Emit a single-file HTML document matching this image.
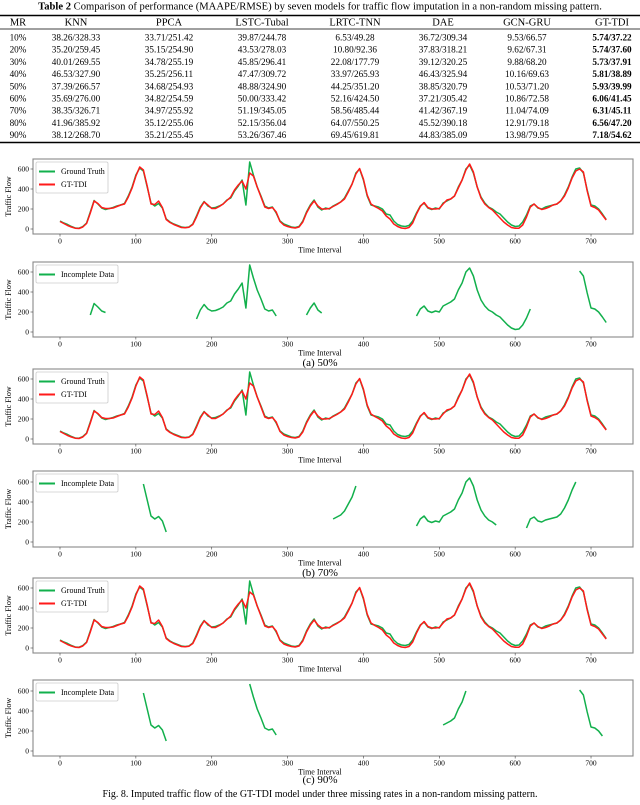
<!DOCTYPE html>
<html><head><meta charset="utf-8"><style>
html,body{margin:0;padding:0;background:#fff;}
body{width:640px;height:800px;overflow:hidden;font-family:"Liberation Serif",serif;}
svg text{font-family:"Liberation Serif",serif;}
</style></head><body>
<svg id="fig" width="640" height="800" viewBox="0 0 640 800" xmlns="http://www.w3.org/2000/svg">
<g id="table"></g>
<g id="charts"></g>
<text x="320" y="366" font-size="11" text-anchor="middle">(a) 50%</text>
<text x="320" y="576" font-size="11" text-anchor="middle">(b) 70%</text>
<text x="320" y="783" font-size="11" text-anchor="middle">(c) 90%</text>
<text x="320" y="797" font-size="10" text-anchor="middle">Fig. 8. Imputed traffic flow of the GT-TDI model under three missing rates in a non-random missing pattern.</text>
</svg>
<script>
const NS="http://www.w3.org/2000/svg";
const tableHeaders=["MR","KNN","PPCA","LSTC-Tubal","LRTC-TNN","DAE","GCN-GRU","GT-TDI"];
const tableRows=[
["10%","38.26/328.33","33.71/251.42","39.87/244.78","6.53/49.28","36.72/309.34","9.53/66.57","5.74/37.22"],
["20%","35.20/259.45","35.15/254.90","43.53/278.03","10.80/92.36","37.83/318.21","9.62/67.31","5.74/37.60"],
["30%","40.01/269.55","34.78/255.19","45.85/296.41","22.08/177.79","39.12/320.25","9.88/68.20","5.73/37.91"],
["40%","46.53/327.90","35.25/256.11","47.47/309.72","33.97/265.93","46.43/325.94","10.16/69.63","5.81/38.89"],
["50%","37.39/266.57","34.68/254.93","48.88/324.90","44.25/351.20","38.85/320.79","10.53/71.20","5.93/39.99"],
["60%","35.69/276.00","34.82/254.59","50.00/333.42","52.16/424.50","37.21/305.42","10.86/72.58","6.06/41.45"],
["70%","38.35/326.71","34.97/255.92","51.19/345.05","58.56/485.44","41.42/367.19","11.04/74.09","6.31/45.11"],
["80%","41.96/385.92","35.12/255.06","52.15/356.04","64.07/550.25","45.52/390.18","12.91/79.18","6.56/47.20"],
["90%","38.12/268.70","35.21/255.45","53.26/367.46","69.45/619.81","44.83/385.09","13.98/79.95","7.18/54.62"]];
const colX=[18,76,169,262,355,443,527,612];

const timeStep=5;
const truthFlow=[80,60,45,25,10,8,25,60,170,285,250,210,195,205,215,230,240,255,330,420,540,610,580,420,260,230,255,210,100,70,50,35,20,15,20,50,130,220,275,230,210,215,230,250,290,310,380,430,490,240,670,540,420,330,230,210,220,160,80,50,35,20,15,25,80,170,240,290,220,190,210,200,230,250,270,310,380,450,560,600,490,330,240,230,220,200,150,140,80,45,30,25,35,80,160,230,260,210,195,210,200,260,280,300,330,420,490,600,640,560,420,320,260,220,200,170,150,110,70,40,25,30,70,140,230,250,210,200,220,230,240,250,280,340,420,520,600,610,560,390,240,230,200,150,95];
const predFlow=[75,55,35,20,8,5,20,55,160,280,255,215,205,205,210,225,240,250,320,410,530,620,590,430,250,245,280,215,95,65,45,30,15,12,18,45,120,210,270,240,205,205,225,250,285,320,390,440,480,400,560,530,420,320,220,205,215,170,75,40,25,15,10,20,70,160,230,280,230,200,200,205,225,245,270,300,370,450,550,605,500,340,250,225,205,180,130,100,50,25,10,5,15,60,150,225,265,215,200,200,205,250,290,300,330,410,490,590,650,570,420,310,250,215,190,150,110,70,40,15,8,8,40,120,220,250,215,195,205,220,240,250,280,330,410,510,580,600,570,380,230,215,190,140,90];
const tickX=[0,100,200,300,400,500,600,700];
const tickY=[0,200,400,600];
const gaps50=[[36,62],[179,287],[323,348],[467,623],[683,720]];
const gaps70=[[107,142],[359,394],[467,575],[611,682]];
const gaps90=[[107,142],[250,287],[503,538],[684,719]];

const GREEN="#12b04c",RED="#ff1a1a";
function el(tag,attrs,parent){const e=document.createElementNS(NS,tag);for(const k in attrs)e.setAttribute(k,attrs[k]);parent.appendChild(e);return e;}
function txt(parent,x,y,s,size,anchor,weight){const t=el("text",{x:x,y:y,"font-size":size,"text-anchor":anchor||"middle"},parent);if(weight)t.setAttribute("font-weight",weight);t.textContent=s;return t;}

// table
const tb=document.getElementById("table");
const cap=el("text",{x:320,y:9.5,"font-size":"10.6","text-anchor":"middle"},tb);


const b=el("tspan",{"font-weight":"bold"},cap);b.textContent="Table 2";
const r=el("tspan",{},cap);r.textContent=" Comparison of performance (MAAPE/RMSE) by seven models for traffic flow imputation in a non-random missing pattern.";
el("line",{x1:0,x2:640,y1:15.5,y2:15.5,stroke:"#000","stroke-width":1.4},tb);
el("line",{x1:0,x2:640,y1:29,y2:29,stroke:"#000","stroke-width":0.8},tb);
el("line",{x1:0,x2:640,y1:142.5,y2:142.5,stroke:"#000","stroke-width":1.4},tb);
tableHeaders.forEach((h,i)=>{const t=txt(tb,colX[i],25.5,h,10.5);

});
tableRows.forEach((row,ri)=>{row.forEach((c,ci)=>{const t=txt(tb,colX[ci],40.5+ri*12.2,c,9.2,"middle",ci===7?"bold":null);

});});

// charts
const charts=document.getElementById("charts");
const X0=60,XS=0.7586,BL=33,BR=633;
function xs(t){return X0+t*XS;}
function drawAxes(g,y0,top){
  const ys=v=>y0-v*0.1;
  const bottom=y0+5;
  const box=el("rect",{x:BL,y:top,width:BR-BL,height:bottom-top,fill:"none",stroke:"#888","stroke-width":1.1},g);
  
  
  tickX.forEach(t=>{el("line",{x1:xs(t),x2:xs(t),y1:bottom,y2:bottom+2.5,stroke:"#444","stroke-width":0.6},g);
    const l=txt(g,xs(t),bottom+9.5,String(t),7.5);
    
    });
  tickY.forEach(v=>{el("line",{x1:BL-2.5,x2:BL,y1:ys(v),y2:ys(v),stroke:"#444","stroke-width":0.6},g);
    const l=txt(g,BL-4,ys(v)+2.6,String(v),7.5,"end");
    
    });
  const xl=txt(g,320,bottom+18.5,"Time Interval",8);
  
  
  const cy=(top+bottom)/2;
  const yl=el("text",{x:0,y:0,"font-size":8,"text-anchor":"middle",transform:`translate(11,${cy}) rotate(-90)`},g);
  yl.textContent="Traffic Flow";
  
  
  return ys;
}
function seriesPath(vals,ys,from,to){
  let d="";
  vals.forEach((v,i)=>{const t=i*timeStep;if(t<from-0.01||t>to+0.01)return;d+=(d?"L":"M")+xs(t).toFixed(1)+","+ys(v).toFixed(1);});
  return d;
}
function legend(g,top,items){
  const w=items.length===1?82:72;
  const h=items.length*13+5;
  const lg=el("rect",{x:36,y:top+3,width:w,height:h,fill:"#fff",stroke:"#ccc","stroke-width":0.8,rx:1.5},g);
  
  
  items.forEach((it,i)=>{const yy=top+3+9.5+i*13;
    el("line",{x1:39,x2:55,y1:yy,y2:yy,stroke:it[1],"stroke-width":2},g);
    const l=txt(g,61,yy+2.7,it[0],8,"start");
    
    });
}
function fullChart(y0,top,name){
  const g=el("g",{},charts);
  
  
  const ys=drawAxes(g,y0,top);
  const p1=el("path",{d:seriesPath(truthFlow,ys,0,720),fill:"none",stroke:GREEN,"stroke-width":1.5,"stroke-linejoin":"round"},g);
  
  
  const p2=el("path",{d:seriesPath(predFlow,ys,0,720),fill:"none",stroke:RED,"stroke-width":1.5,"stroke-linejoin":"round"},g);
  
  
  legend(g,top,[["Ground Truth",GREEN],["GT-TDI",RED]]);
}
function partChart(y0,top,segs,name){
  const g=el("g",{},charts);
  
  
  const ys=drawAxes(g,y0,top);
  segs.forEach(s=>{const p=el("path",{d:seriesPath(truthFlow,ys,Math.ceil(s[0]/5)*5,Math.floor(s[1]/5)*5),fill:"none",stroke:GREEN,"stroke-width":1.5,"stroke-linejoin":"round"},g);
    
    });
  legend(g,top,[["Incomplete Data",GREEN]]);
}
fullChart(229,159,"chart-50-imputed");
partChart(332,262,gaps50,"chart-50-incomplete");
fullChart(439,369,"chart-70-imputed");
partChart(542,471,gaps70,"chart-70-incomplete");
fullChart(648,578,"chart-90-imputed");
partChart(751,680,gaps90,"chart-90-incomplete");
</script>
</body></html>
